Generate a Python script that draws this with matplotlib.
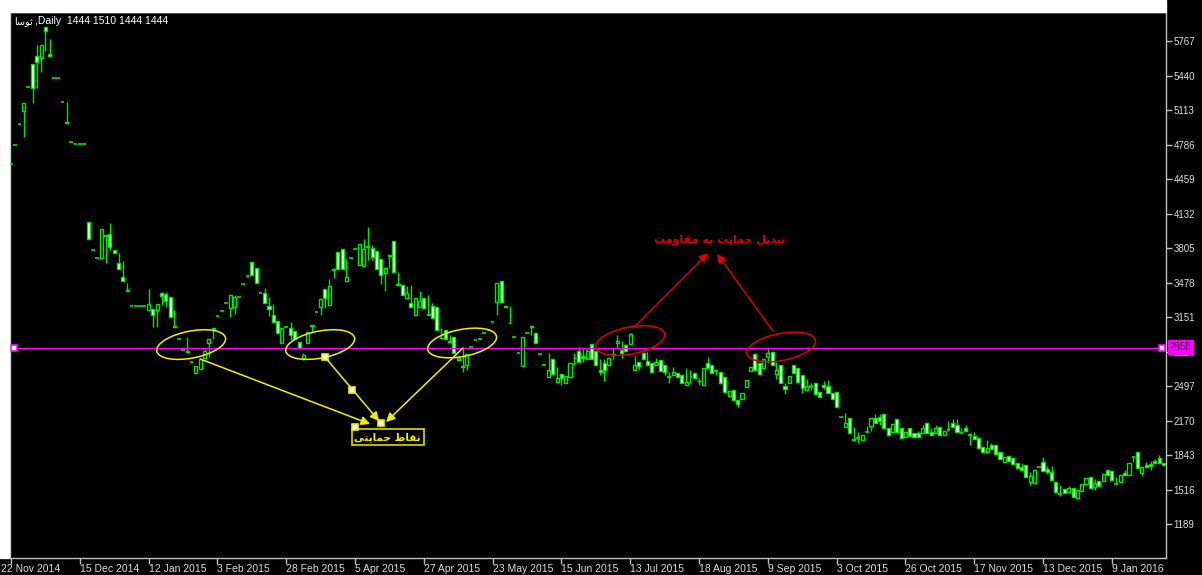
import numpy as np
import matplotlib
matplotlib.use("Agg")
from matplotlib import pyplot as plt
import matplotlib.transforms as mtransforms
from matplotlib.patches import Ellipse, Rectangle

# daily OHLC bars (bar 0 = 22 Nov 2014)
opens = [
    4601, 4781, 4977, 5106, 5334, 5549, 5628, 5609, 5903, 5640,
    5413, 5413, 5192, 4995, 4813, 4791, 4791, 4791, 4049, 3786,
    3707, 3707, 3915, 3938, 3786, 3660, 3533, 3405, 3258, 3258,
    3258, 3258, 3217, 3224, 3217, 3376, 3369, 3344, 3065, 2940,
    2838, 2830, 2727, 2623, 2661, 2760, 2908, 3040, 3160, 3211,
    3281, 3234, 3249, 3341, 3464, 3540, 3669, 3612, 3376, 3382,
    3255, 3170, 3116, 2902, 3053, 3047, 3018, 2917, 2760, 2902,
    3065, 3202, 3249, 3414, 3265, 3595, 3770, 3793, 3492, 3707,
    3796, 3644, 3634, 3815, 3805, 3780, 3698, 3565, 3728, 3872,
    3460, 3454, 3328, 3287, 3170, 3249, 3335, 3175, 3255, 3249,
    2955, 3028, 2920, 2961, 2740, 2680, 2696, 2870, 2933, 2943,
    2997, 3030, 3107, 3297, 3495, 3250, 3095, 2964, 2813, 2687,
    2997, 3055, 2997, 2800, 2696, 2585, 2750, 2538, 2611, 2523,
    2585, 2760, 2832, 2778, 2750, 2895, 2832, 2649, 2712, 2696,
    2790, 2902, 2838, 2886, 2895, 2649, 2727, 2806, 2737, 2712,
    2696, 2743, 2696, 2585, 2601, 2623, 2601, 2507, 2590, 2617,
    2540, 2507, 2712, 2696, 2642, 2633, 2579, 2402, 2459, 2365,
    2371, 2491, 2642, 2800, 2712, 2665, 2769, 2822, 2611, 2696,
    2497, 2523, 2696, 2665, 2601, 2459, 2497, 2523, 2443, 2507,
    2497, 2427, 2443, 2206, 2105, 2191, 1995, 2001, 1985, 2064,
    2118, 2191, 2200, 2232, 2096, 2064, 2182, 2096, 2017, 2096,
    2055, 2055, 2049, 2144, 2064, 2049, 2105, 2033, 2080, 2150,
    2128, 2055, 2096, 2040, 2023, 2001, 1922, 1874, 1938, 1938,
    1874, 1780, 1833, 1811, 1764, 1733, 1748, 1590, 1575, 1733,
    1780, 1707, 1685, 1590, 1474, 1518, 1496, 1528, 1433, 1506,
    1569, 1638, 1543, 1600, 1600, 1701, 1695, 1569, 1590, 1676,
    1654, 1820, 1874, 1670, 1748, 1758, 1789, 1811, 1770,
]
highs = [
    4601, 4781, 4977, 5177, 5334, 5549, 5729, 5729, 5903, 5783,
    5413, 5413, 5192, 5192, 4813, 4791, 4791, 4791, 4049, 3786,
    3707, 3985, 3928, 4039, 3786, 3761, 3685, 3476, 3258, 3258,
    3258, 3258, 3414, 3224, 3274, 3391, 3391, 3344, 3217, 2940,
    2838, 2964, 2727, 2687, 2750, 2850, 2943, 3050, 3160, 3211,
    3281, 3357, 3360, 3341, 3464, 3540, 3669, 3612, 3376, 3423,
    3344, 3274, 3116, 3044, 3053, 3101, 3018, 2917, 2806, 3012,
    3075, 3202, 3322, 3420, 3508, 3620, 3770, 3793, 3698, 3707,
    3796, 3843, 3890, 4001, 3830, 3780, 3698, 3620, 3739, 3872,
    3577, 3454, 3445, 3454, 3328, 3401, 3335, 3360, 3287, 3249,
    3044, 3028, 2981, 2961, 2770, 2855, 2798, 2870, 2933, 2943,
    2997, 3030, 3107, 3470, 3495, 3260, 3255, 2964, 2813, 2961,
    2997, 3063, 2997, 2800, 2696, 2806, 2750, 2680, 2611, 2592,
    2718, 2806, 2870, 2850, 2850, 2895, 2832, 2750, 2750, 2760,
    2855, 2981, 2926, 2900, 2995, 2778, 2727, 2820, 2820, 2712,
    2765, 2743, 2696, 2633, 2680, 2623, 2601, 2665, 2650, 2617,
    2570, 2665, 2769, 2696, 2660, 2633, 2579, 2453, 2459, 2365,
    2434, 2554, 2680, 2810, 2712, 2750, 2855, 2822, 2720, 2696,
    2530, 2592, 2696, 2665, 2601, 2560, 2530, 2523, 2443, 2540,
    2555, 2427, 2443, 2206, 2240, 2191, 2112, 2065, 2033, 2120,
    2191, 2232, 2232, 2232, 2096, 2137, 2182, 2096, 2064, 2096,
    2055, 2075, 2130, 2160, 2100, 2130, 2105, 2074, 2170, 2180,
    2182, 2100, 2130, 2055, 2060, 2001, 1922, 1990, 1960, 1938,
    1874, 1827, 1833, 1811, 1764, 1770, 1748, 1680, 1701, 1733,
    1827, 1740, 1740, 1590, 1560, 1518, 1550, 1528, 1512, 1566,
    1622, 1638, 1620, 1600, 1663, 1701, 1695, 1630, 1654, 1700,
    1764, 1820, 1874, 1733, 1780, 1790, 1810, 1840, 1770,
]
lows = [
    4601, 4781, 4977, 4860, 5334, 5177, 5319, 5476, 5675, 5628,
    5413, 5413, 5192, 4987, 4813, 4791, 4791, 4791, 3887, 3786,
    3707, 3707, 3660, 3786, 3761, 3603, 3495, 3398, 3258, 3258,
    3258, 3258, 3217, 3059, 3059, 3265, 3246, 3148, 3059, 2940,
    2838, 2822, 2727, 2623, 2661, 2760, 2769, 2945, 3160, 3211,
    3281, 3150, 3175, 3341, 3464, 3540, 3549, 3476, 3376, 3287,
    3158, 3107, 3002, 2902, 3053, 2933, 2940, 2855, 2744, 2902,
    3010, 3202, 3170, 3240, 3265, 3518, 3603, 3603, 3492, 3707,
    3796, 3644, 3634, 3691, 3691, 3603, 3464, 3401, 3612, 3577,
    3454, 3360, 3328, 3249, 3170, 3249, 3234, 3170, 3139, 3028,
    2949, 2940, 2917, 2806, 2740, 2633, 2649, 2870, 2933, 2943,
    2997, 3030, 3107, 3170, 3297, 3245, 3091, 2964, 2813, 2687,
    2997, 2981, 2908, 2800, 2696, 2585, 2611, 2538, 2507, 2523,
    2585, 2696, 2727, 2720, 2750, 2750, 2696, 2601, 2548, 2696,
    2750, 2855, 2760, 2832, 2895, 2649, 2646, 2750, 2696, 2633,
    2696, 2642, 2601, 2523, 2601, 2579, 2523, 2507, 2523, 2570,
    2507, 2507, 2665, 2617, 2600, 2523, 2443, 2402, 2365, 2295,
    2371, 2491, 2642, 2649, 2611, 2665, 2712, 2696, 2560, 2523,
    2421, 2523, 2617, 2538, 2427, 2459, 2460, 2421, 2390, 2470,
    2427, 2371, 2301, 2206, 2105, 2049, 1985, 1960, 1985, 2064,
    2075, 2144, 2130, 2096, 2020, 2064, 2064, 2001, 2017, 2023,
    2017, 2017, 2049, 2055, 2033, 2049, 2033, 2033, 2070, 2112,
    2064, 2055, 2074, 1938, 1992, 1906, 1860, 1874, 1897, 1852,
    1802, 1780, 1789, 1758, 1717, 1701, 1632, 1560, 1575, 1733,
    1695, 1660, 1606, 1496, 1450, 1486, 1496, 1442, 1433, 1506,
    1569, 1528, 1510, 1550, 1600, 1654, 1606, 1569, 1590, 1654,
    1654, 1780, 1717, 1640, 1726, 1700, 1770, 1764, 1748,
]
closes = [
    4601, 4781, 4977, 5177, 5334, 5319, 5565, 5729, 5865, 5628,
    5413, 5413, 5192, 4987, 4813, 4791, 4791, 4791, 3887, 3786,
    3707, 3985, 3928, 3812, 3761, 3603, 3495, 3398, 3258, 3258,
    3258, 3258, 3274, 3170, 3274, 3350, 3306, 3148, 3059, 2940,
    2838, 2822, 2727, 2687, 2750, 2832, 2943, 3050, 3160, 3211,
    3281, 3357, 3341, 3341, 3464, 3540, 3549, 3476, 3376, 3287,
    3224, 3107, 3002, 3044, 3053, 2981, 2940, 2855, 2790, 3012,
    3075, 3202, 3322, 3328, 3445, 3610, 3603, 3603, 3528, 3707,
    3796, 3843, 3793, 3825, 3723, 3603, 3549, 3620, 3739, 3577,
    3454, 3360, 3376, 3249, 3328, 3303, 3234, 3170, 3139, 3028,
    2949, 2940, 2917, 2806, 2760, 2690, 2798, 2870, 2933, 2943,
    2997, 3030, 3107, 3470, 3297, 3255, 3091, 2964, 2813, 2961,
    2997, 3063, 2908, 2800, 2696, 2649, 2611, 2570, 2570, 2592,
    2718, 2765, 2727, 2765, 2832, 2750, 2696, 2633, 2649, 2760,
    2800, 2926, 2813, 2832, 2990, 2696, 2687, 2750, 2696, 2633,
    2727, 2642, 2633, 2590, 2633, 2579, 2523, 2538, 2595, 2570,
    2545, 2665, 2665, 2617, 2642, 2523, 2443, 2453, 2365, 2327,
    2434, 2554, 2680, 2649, 2611, 2750, 2806, 2696, 2649, 2523,
    2466, 2592, 2617, 2538, 2475, 2497, 2497, 2421, 2390, 2491,
    2427, 2371, 2301, 2206, 2150, 2049, 1985, 2001, 2033, 2064,
    2191, 2144, 2169, 2096, 2033, 2137, 2064, 2001, 2064, 2023,
    2017, 2017, 2096, 2055, 2033, 2096, 2033, 2074, 2080, 2112,
    2064, 2055, 2074, 2036, 1992, 1906, 1874, 1906, 1897, 1852,
    1802, 1827, 1789, 1758, 1717, 1701, 1632, 1644, 1701, 1733,
    1695, 1685, 1606, 1496, 1474, 1486, 1528, 1442, 1512, 1566,
    1622, 1528, 1581, 1550, 1663, 1654, 1606, 1569, 1654, 1654,
    1764, 1820, 1717, 1733, 1726, 1739, 1770, 1764, 1748,
]

date_labels = [
    "22 Nov 2014", "15 Dec 2014", "12 Jan 2015", "3 Feb 2015", "28 Feb 2015",
    "5 Apr 2015", "27 Apr 2015", "23 May 2015", "15 Jun 2015", "13 Jul 2015",
    "18 Aug 2015", "9 Sep 2015", "3 Oct 2015", "26 Oct 2015", "17 Nov 2015",
    "13 Dec 2015", "9 Jan 2016",
]
LABEL_EVERY = 16
price_ticks = [1189, 1516, 1843, 2170, 2497, 2824, 3151, 3478, 3805, 4132, 4459, 4786, 5113, 5440, 5767]
support_level = 2858

header = ("ثوسا", ",Daily  1444 1510 1444 1444")
support_text = "نقاط حمایتی"
flip_text = "تبدیل حمایت به مقاومت"

# annotation anchors as (bar, price)
support_ovals = [(41.9, 2890), (71.9, 2890), (104.9, 2905)]
flip_ovals = [(144.0, 2928), (179.1, 2867)]
support_arrows = [((44.0, 2753), (83.5, 2137)), ((73.0, 2772), (85.6, 2165)), ((105.1, 2857), (87.2, 2156))]
support_handles = [(73.0, 2772), (79.3, 2459), (86.0, 2144), (80.0, 2109)]
support_label_pos = (87.6, 2014)
flip_arrows = [((144.9, 3056), (162.1, 3758)), ((177.2, 3018), (164.2, 3748))]
flip_label_pos = (164.9, 3881)

GREEN = "#00e600"
YELLOW = "#f0f000"
RED = "#e00000"
MAGENTA = "#ff00ff"
AXIS_GREY = "#c0c0c0"
TEXT_GREY = "#dcdcdc"
TICK_FONT = "Liberation Sans"

# presentation forms: isolated, final, initial, medial
FORMS = {
    "ا": ("\ufe8d", "\ufe8e", None, None),
    "ب": ("\ufe8f", "\ufe90", "\ufe91", "\ufe92"),
    "ت": ("\ufe95", "\ufe96", "\ufe97", "\ufe98"),
    "ث": ("\ufe99", "\ufe9a", "\ufe9b", "\ufe9c"),
    "ح": ("\ufea1", "\ufea2", "\ufea3", "\ufea4"),
    "د": ("\ufea9", "\ufeaa", None, None),
    "س": ("\ufeb1", "\ufeb2", "\ufeb3", "\ufeb4"),
    "ط": ("\ufec1", "\ufec2", "\ufec3", "\ufec4"),
    "ق": ("\ufed5", "\ufed6", "\ufed7", "\ufed8"),
    "ل": ("\ufedd", "\ufede", "\ufedf", "\ufee0"),
    "م": ("\ufee1", "\ufee2", "\ufee3", "\ufee4"),
    "ن": ("\ufee5", "\ufee6", "\ufee7", "\ufee8"),
    "ه": ("\ufee9", "\ufeea", "\ufeeb", "\ufeec"),
    "و": ("\ufeed", "\ufeee", None, None),
    "ی": ("\ufeef", "\ufef0", "\ufef3", "\ufef4"),
}


def shape_fa(text: str) -> str:
    # matplotlib has no arabic shaping, so join letters and reverse by hand
    words = []
    for word in text.split(" "):
        glyphs = []
        for i, ch in enumerate(word):
            forms = FORMS[ch]
            joins_prev = i > 0 and FORMS[word[i - 1]][2] is not None
            joins_next = i < len(word) - 1 and forms[2] is not None
            if joins_prev and joins_next:
                glyphs.append(forms[3])
            elif joins_prev:
                glyphs.append(forms[1])
            elif joins_next:
                glyphs.append(forms[2])
            else:
                glyphs.append(forms[0])
        words.append("".join(reversed(glyphs)))
    return " ".join(reversed(words))


def main() -> None:
    o = np.array(opens, dtype=float)
    c = np.array(closes, dtype=float)
    h = np.maximum(np.array(highs, dtype=float), np.maximum(o, c))
    lo = np.minimum(np.array(lows, dtype=float), np.minimum(o, c))
    x = np.arange(len(o))

    fig = plt.figure(figsize=(12.02, 5.75), dpi=100, facecolor="black")
    fig.patches.append(Rectangle((0, 1 - 12 / 575), 1166 / 1202, 12 / 575, transform=fig.transFigure, color="white", zorder=0))
    fig.patches.append(Rectangle((0, 1 - 558 / 575), 9 / 1202, 558 / 575, transform=fig.transFigure, color="white", zorder=0))
    ax = fig.add_axes([10 / 1202, 1 - 558 / 575, 1156 / 1202, 546 / 575], facecolor="black")

    # candles
    ax.vlines(x, lo, h, color=GREEN, linewidth=1.0, zorder=2)
    body = np.abs(c - o)
    solid = body > 0
    up = solid & (c > o)
    down = solid & (c < o)
    ax.bar(x[up], body[up], bottom=o[up], width=0.72, facecolor="black", edgecolor=GREEN, linewidth=1.0, zorder=3)
    ax.bar(x[down], body[down], bottom=c[down], width=0.72, facecolor="#f4fff4", edgecolor=GREEN, linewidth=1.0, zorder=3)
    flat = ~solid
    ax.hlines(o[flat], x[flat] - 0.42, x[flat] + 0.42, color=GREEN, linewidth=1.2, zorder=3)

    # support level
    ax.axhline(support_level, color=MAGENTA, linewidth=1.0, zorder=4)
    level_trans = mtransforms.blended_transform_factory(ax.transAxes, ax.transData)
    ax.plot([0.0035, 0.9965], [support_level, support_level], "s", ms=4, mfc="white", mec=MAGENTA,
            mew=1.2, transform=level_trans, zorder=5, clip_on=False)
    ax.annotate(str(support_level), xy=(1, support_level), xycoords=level_trans, xytext=(2.5, 0.5),
                textcoords="offset points", ha="left", va="center", fontsize=7, family=TICK_FONT,
                color="#300030", bbox=dict(boxstyle="square,pad=0.2", fc=MAGENTA, ec=MAGENTA),
                annotation_clip=False, zorder=6)

    def oval(center, color):
        trans = fig.dpi_scale_trans + mtransforms.ScaledTranslation(center[0], center[1], ax.transData)
        ax.add_patch(Ellipse((0, 0), 0.70, 0.27, angle=11, transform=trans, fill=False,
                             edgecolor=color, linewidth=1.1, zorder=6))

    for center in support_ovals:
        oval(center, YELLOW)
    for center in flip_ovals:
        oval(center, RED)

    for start, tip in support_arrows:
        ax.annotate("", xy=tip, xytext=start, arrowprops=dict(arrowstyle="-|>", color=YELLOW, lw=1.1,
                    mutation_scale=13, shrinkA=0, shrinkB=0), zorder=6)
    for start, tip in flip_arrows:
        ax.annotate("", xy=tip, xytext=start, arrowprops=dict(arrowstyle="-|>", color=RED, lw=1.0,
                    mutation_scale=13, shrinkA=0, shrinkB=0), zorder=6)

    ax.text(*support_label_pos, shape_fa(support_text), color=YELLOW, fontsize=7.5, fontweight="bold",
            ha="center", va="center", zorder=7,
            bbox=dict(boxstyle="square,pad=0.25", fc="black", ec=YELLOW, lw=1.1))
    hx, hy = zip(*support_handles)
    ax.plot(hx, hy, "s", ms=5, mfc="white", mec=YELLOW, mew=1.2, linestyle="none", zorder=8)

    ax.text(*flip_label_pos, shape_fa(flip_text), color=RED, fontsize=8, fontweight="bold",
            ha="center", va="center", zorder=7)

    ax.text(0.004, 0.984, shape_fa(header[0]), transform=ax.transAxes, color="white",
            fontsize=7, ha="left", va="center")
    ax.text(0.0215, 0.984, header[1], transform=ax.transAxes, color="white",
            fontsize=7.5, family=TICK_FONT, ha="left", va="center")

    # axes in MT4 style
    ax.set_xlim(-0.233, 268.6)
    ax.set_ylim(867, 6042)
    for spine in ax.spines.values():
        spine.set_color(AXIS_GREY)
        spine.set_linewidth(1.0)

    ax.yaxis.tick_right()
    ax.set_yticks(price_ticks)
    ax.set_yticklabels([str(v) for v in price_ticks], family=TICK_FONT)
    ax.tick_params(axis="y", direction="out", length=4, width=1, color=AXIS_GREY, labelcolor=TEXT_GREY,
                   labelsize=7, pad=1.5)

    ax.set_xticks(np.arange(len(date_labels)) * LABEL_EVERY)
    ax.set_xticklabels(date_labels, family=TICK_FONT)
    ax.tick_params(axis="x", direction="out", length=4, width=1, color=AXIS_GREY, labelcolor=TEXT_GREY,
                   labelsize=7.5, pad=0.5)
    for lbl in ax.get_xticklabels():
        lbl.set_horizontalalignment("left")
    first = ax.get_xticklabels()[0]
    first.set_transform(first.get_transform() + mtransforms.ScaledTranslation(-0.10, 0, fig.dpi_scale_trans))

    fig.savefig("out.png", dpi=100, facecolor="black")


if __name__ == "__main__":
    main()
